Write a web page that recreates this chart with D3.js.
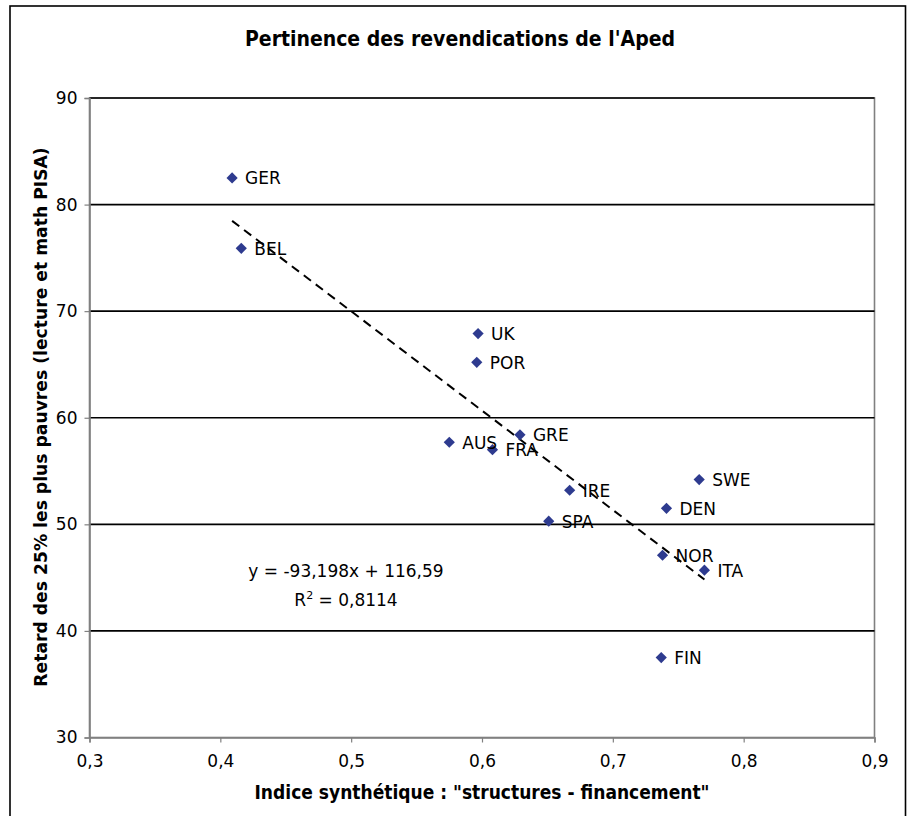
<!DOCTYPE html>
<html>
<head>
<meta charset="utf-8">
<script src="https://cdn.jsdelivr.net/npm/d3@7"></script>
<style>
  html, body { margin: 0; padding: 0; background: #fff; }
  svg { display: block; }
</style>
</head>
<body>
<svg id="chart" width="912" height="816"></svg>
<script>
// ---- data ----
const countries = ["GER", "BEL", "UK", "POR", "GRE", "AUS", "FRA", "IRE", "SPA", "SWE", "DEN", "NOR", "ITA", "FIN"];
const xValues   = [0.409, 0.416, 0.597, 0.596, 0.629, 0.575, 0.608, 0.667, 0.651, 0.766, 0.741, 0.738, 0.770, 0.737];
const yValues   = [82.5, 75.9, 67.9, 65.2, 58.4, 57.7, 57.0, 53.2, 50.3, 54.2, 51.5, 47.1, 45.7, 37.5];
const xTicks = [0.3, 0.4, 0.5, 0.6, 0.7, 0.8, 0.9];
const yTicks = [30, 40, 50, 60, 70, 80, 90];
const trendSlope = -93.198;
const trendIntercept = 116.59;
const equationText = "y = -93,198x + 116,59";
const r2Value = "0,8114";
const titleText = "Pertinence des revendications de l'Aped";
const xTitle = "Indice synthétique : \"structures - financement\"";
const yTitle = "Retard des 25% les plus pauvres (lecture et math PISA)";

// ---- layout ----
const svg = d3.select("#chart");
const plot = { left: 89.5, right: 874.5, top: 98, bottom: 737.5 };
const x = d3.scaleLinear().domain([0.3, 0.9]).range([plot.left, plot.right]);
const y = d3.scaleLinear().domain([30, 90]).range([plot.bottom, plot.top]);
const fmt = d => d3.format(".1f")(d).replace(".", ",");
const font = "'DejaVu Sans', Verdana, sans-serif";

// outer frame
svg.append("rect").attr("x", 10).attr("y", 6).attr("width", 895.5).attr("height", 830)
  .attr("fill", "#fff").attr("stroke", "#000").attr("stroke-width", 1.6);

// title
svg.append("text").attr("x", 460).attr("y", 46).attr("text-anchor", "middle")
  .attr("font-family", font).attr("font-weight", "bold").attr("font-size", 21)
  .attr("font-stretch", "condensed")
  .text(titleText);

// plot border (gray)
svg.append("rect").attr("x", plot.left).attr("y", plot.top)
  .attr("width", plot.right - plot.left).attr("height", plot.bottom - plot.top)
  .attr("fill", "#fff").attr("stroke", "#808080").attr("stroke-width", 1.6);

// gridlines
svg.append("g").selectAll("line").data(yTicks.filter(d => d > 30)).join("line")
  .attr("x1", plot.left).attr("x2", plot.right)
  .attr("y1", d => y(d)).attr("y2", d => y(d))
  .attr("stroke", "#000").attr("stroke-width", 1.6);

// y axis
const yAxis = d3.axisLeft(y).tickValues(yTicks).tickSize(5).tickPadding(7).tickFormat(d3.format("d"));
const gy = svg.append("g").attr("transform", `translate(${plot.left},0)`).call(yAxis);
gy.select(".domain").attr("stroke", "#808080").attr("stroke-width", 1.6);
gy.selectAll(".tick line").attr("stroke", "#808080").attr("stroke-width", 1.2);
gy.selectAll(".tick text").attr("font-family", font).attr("font-size", 17).attr("fill", "#000");

// x axis
const xAxis = d3.axisBottom(x).tickValues(xTicks).tickSize(5).tickPadding(12).tickFormat(fmt);
const gx = svg.append("g").attr("transform", `translate(0,${plot.bottom})`).call(xAxis);
gx.select(".domain").attr("stroke", "#808080").attr("stroke-width", 1.6);
gx.selectAll(".tick line").attr("stroke", "#808080").attr("stroke-width", 1.2);
gx.selectAll(".tick text").attr("font-family", font).attr("font-size", 17).attr("fill", "#000");

// axis titles
svg.append("text").attr("x", 482).attr("y", 799).attr("text-anchor", "middle")
  .attr("font-family", font).attr("font-weight", "bold").attr("font-size", 19)
  .attr("font-stretch", "condensed")
  .text(xTitle);
svg.append("text").attr("transform", "translate(47,417) rotate(-90)").attr("text-anchor", "middle")
  .attr("font-family", font).attr("font-weight", "bold").attr("font-size", 17.2)
  .text(yTitle);

// trend line
const pts = countries.map((c, i) => ({ c, x: xValues[i], y: yValues[i] }));
const xExt = d3.extent(xValues);
svg.append("line")
  .attr("x1", x(xExt[0])).attr("y1", y(trendSlope * xExt[0] + trendIntercept))
  .attr("x2", x(xExt[1])).attr("y2", y(trendSlope * xExt[1] + trendIntercept))
  .attr("stroke", "#000").attr("stroke-width", 2).attr("stroke-dasharray", "9,6");

// markers
const diamond = d3.symbol().type(d3.symbolDiamond2).size(80);
svg.append("g").selectAll("path").data(pts).join("path")
  .attr("transform", d => `translate(${x(d.x)},${y(d.y)})`)
  .attr("d", diamond).attr("fill", "#2E3B8F");

// labels
svg.append("g").selectAll("text").data(pts).join("text")
  .attr("x", d => x(d.x) + 13).attr("y", d => y(d.y) + 6.5)
  .attr("font-family", font).attr("font-size", 17).attr("fill", "#000")
  .text(d => d.c);

// equation
svg.append("text").attr("x", 346).attr("y", 577).attr("text-anchor", "middle")
  .attr("font-family", font).attr("font-size", 17).text(equationText);
const r2 = svg.append("text").attr("x", 346).attr("y", 606).attr("text-anchor", "middle")
  .attr("font-family", font).attr("font-size", 17);
r2.append("tspan").text("R");
r2.append("tspan").attr("dy", -7).attr("font-size", 11).text("2");
r2.append("tspan").attr("dy", 7).text(" = " + r2Value);
</script>
</body>
</html>
